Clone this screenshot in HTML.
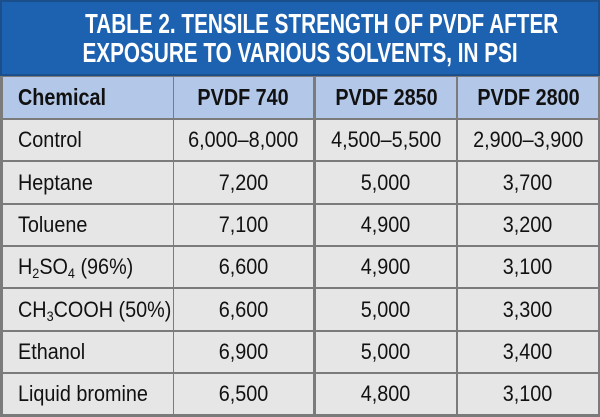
<!DOCTYPE html>
<html><head><meta charset="utf-8"><style>
html,body{margin:0;padding:0;background:#fff}
#t{position:relative;width:600px;height:417px;overflow:hidden;font-family:"Liberation Sans",sans-serif;background:#7b7b7b}
.title{position:absolute;left:0;top:0;width:600px;height:76px;background:#1d62b0;border:2px solid #1a4f8c;box-sizing:border-box;color:#fff;font-weight:bold;font-size:28px;line-height:29px;text-align:center}
.tl{position:absolute;left:0;width:596px;text-align:center;white-space:nowrap}
.tl span{display:inline-block;transform:scaleX(0.74);transform-origin:center}
.cell{position:absolute;box-sizing:border-box;display:flex;align-items:center;justify-content:center;white-space:nowrap;color:#111;font-size:22px;background:#e6e6e6}
.cell span{display:inline-block;transform:scaleX(0.9);transform-origin:center}
.cell.c{justify-content:flex-start;padding-left:15px}
.cell.c span{transform-origin:left center}
.hd{background:#b3c7e8;font-weight:bold;font-size:23px}
.hd span{transform:scaleX(0.86)}
sub{font-size:14px;vertical-align:-4px;line-height:0}
</style></head><body>
<div id="t">
<div class="title">
<div class="tl" style="top:7px"><span>TABLE 2. TENSILE STRENGTH OF PVDF AFTER</span></div>
<div class="tl" style="top:36px"><span>EXPOSURE TO VARIOUS SOLVENTS, IN PSI</span></div>
</div>
<div id="grid"></div>
</div>
<script>
const cols=[[3,170],[174,139],[316,140],[458,140]];
const rows=[
 [['Chemical'],['PVDF 740'],['PVDF 2850'],['PVDF 2800']],
 [['Control'],['6,000–8,000'],['4,500–5,500'],['2,900–3,900']],
 [['Heptane'],['7,200'],['5,000'],['3,700']],
 [['Toluene'],['7,100'],['4,900'],['3,200']],
 [['H<sub>2</sub>SO<sub>4</sub> (96%)'],['6,600'],['4,900'],['3,100']],
 [['CH<sub>3</sub>COOH (50%)'],['6,600'],['5,000'],['3,300']],
 [['Ethanol'],['6,900'],['5,000'],['3,400']],
 [['Liquid bromine'],['6,500'],['4,800'],['3,100']]
];
const names=['header-row','row-control','row-heptane','row-toluene','row-sulfuric-acid','row-acetic-acid','row-ethanol','row-liquid-bromine'];
const g=document.getElementById('t');
rows.forEach((r,i)=>{
  let top,h;
  if(i===0){top=77;h=41;}else{top=Math.round(119+(i-1)*42.3+1);h=Math.round(119+i*42.3)-top-1;}
  r.forEach((v,j)=>{
    const d=document.createElement('div');
    d.className='cell'+(j===0?' c':'')+(i===0?' hd':'');
    d.style.left=cols[j][0]+'px';d.style.width=cols[j][1]+'px';
    d.style.top=top+'px';d.style.height=h+'px';
    d.innerHTML='<span>'+v[0]+'</span>';
    
    
    g.appendChild(d);
  });
});
</script>
</body></html>
